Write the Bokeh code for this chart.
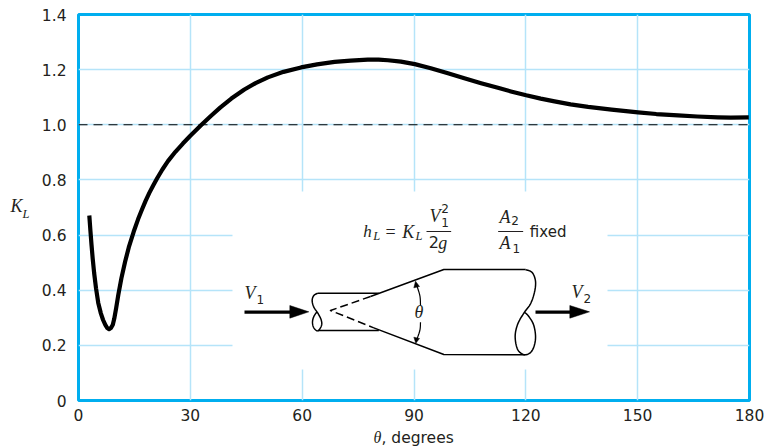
from bokeh.plotting import figure
from bokeh.models import Label, Range1d
from bokeh.embed import file_html
from bokeh.resources import INLINE

# Loss coefficient curve
theta = [2.9, 3.2, 3.5, 3.8, 4.2, 4.7, 5.3, 6.0, 6.6, 7.2, 7.7, 8.2, 8.7, 9.2, 9.6, 10.1, 10.7, 11.5, 12.5,
         13.5, 14.8, 16.0, 17.0, 18.0, 19.0, 20.0, 21.1, 22.5, 24.0, 26.0, 28.0, 30.0, 33.0, 35.5,
         38.0, 41.0, 44.5, 47.5, 50.8, 55.0, 59.7, 64.0, 68.7, 73.0, 77.6, 80.5, 83.0, 86.5, 90.2, 94.5,
         99.1, 103.5, 108.0, 112.5, 116.0, 120.1, 124.0, 127.7, 132.0, 136.7, 143.0, 150.1, 155.0, 160.8,
         166.0, 171.5, 175.0, 179.8]
K_L = [0.671, 0.615, 0.563, 0.516, 0.462, 0.407, 0.354, 0.316, 0.292, 0.274, 0.263, 0.259, 0.263, 0.275,
       0.297, 0.335, 0.385, 0.443, 0.503, 0.556, 0.612, 0.658, 0.692, 0.724, 0.753, 0.779, 0.806, 0.838,
       0.868, 0.902, 0.932, 0.960, 1.000, 1.032, 1.062, 1.095, 1.128, 1.151, 1.172, 1.192, 1.208,
       1.219, 1.228, 1.233, 1.236, 1.236, 1.234, 1.229, 1.220, 1.205, 1.187, 1.169, 1.151, 1.134, 1.121,
       1.107, 1.095, 1.085, 1.074, 1.065, 1.055, 1.045, 1.039, 1.034, 1.030, 1.027, 1.026, 1.027]
ref_x = [0, 180]
ref_y = [1.0, 1.0]
x_ticks = [0, 30, 60, 90, 120, 150, 180]
y_ticks = [0, 0.2, 0.4, 0.6, 0.8, 1.0, 1.2, 1.4]
y_labels = ["0", "0.2", "0.4", "0.6", "0.8", "1.0", "1.2", "1.4"]

BLUE = "#00aeef"
GRID = "#b5e4f9"
INK = "#231f20"
SANS = "DejaVu Sans"
SERIF = "Liberation Serif"

p = figure(width=764, height=446, output_backend="svg", toolbar_location=None,
           x_range=Range1d(0, 180), y_range=Range1d(0, 1.4),
           min_border_left=78, min_border_right=15, min_border_top=14, min_border_bottom=46,
           outline_line_color=BLUE, outline_line_width=3, background_fill_color="white")
p.xaxis.ticker = x_ticks
p.yaxis.ticker = y_ticks
p.yaxis.major_label_overrides = {t: s for t, s in zip(y_ticks, y_labels)}
for ax in (p.xaxis[0], p.yaxis[0]):
    ax.axis_line_color = None
    ax.major_tick_line_color = None
    ax.minor_tick_line_color = None
    ax.major_label_text_font = SANS
    ax.major_label_text_font_size = "15.5px"
    ax.major_label_text_color = INK
p.xaxis.major_label_standoff = 2
p.yaxis.major_label_standoff = 6
p.xgrid.ticker = x_ticks
p.ygrid.ticker = y_ticks
for g in (p.xgrid[0], p.ygrid[0]):
    g.grid_line_color = GRID
    g.grid_line_width = 1.5


def dx(px):
    return (px - 78) / 671 * 180


def dy(py):
    return (400 - py) / 386 * 1.4


# white panel behind the inset
p.quad(left=[dx(232)], right=[dx(607)], bottom=[dy(369)], top=[dy(191)],
       fill_color="white", line_color=None)

p.line(ref_x, ref_y, line_color="black", line_width=1.1, line_dash="9 6")
p.line(theta, K_L, line_color="black", line_width=4.2, line_join="round")


def smooth(pts, n=8):
    """Catmull-Rom rounding of the hand-drawn inset outline only."""
    out = []
    for i in range(len(pts) - 1):
        p0 = pts[max(i - 1, 0)]
        p1 = pts[i]
        p2 = pts[i + 1]
        p3 = pts[min(i + 2, len(pts) - 1)]
        for k in range(n):
            t = k / n
            out.append(tuple(
                0.5 * (2 * p1[c] + (p2[c] - p0[c]) * t + (2 * p0[c] - 5 * p1[c] + 4 * p2[c] - p3[c]) * t * t
                       + (3 * p1[c] - p0[c] - 3 * p2[c] + p3[c]) * t ** 3)
                for c in (0, 1)))
    out.append(pts[-1])
    return out


def z1(pts):
    xs = [dx(230 + a / 3) for a, b in pts]
    ys = [dy(210 + b / 3) for a, b in pts]
    return xs, ys


def stroke(pts, w=1.5, dash="solid"):
    xs, ys = z1(pts)
    p.line(xs, ys, line_color="black", line_width=w, line_dash=dash, line_join="round")


def head(pts):
    xs, ys = z1(pts)
    p.patch(xs, ys, fill_color="black", line_color="black", line_width=0.5)


# pipe
stroke([(445, 248), (262, 248)])
stroke(smooth([(262, 248), (250, 255), (245, 270), (250, 290), (262, 308), (272, 328), (273, 345), (262, 361),
               (250, 352), (246, 335), (250, 318), (260, 303)]))
stroke([(262, 360), (445, 360)])
stroke([(420, 258), (640, 177), (885, 177)])
stroke(smooth([(885, 177), (905, 186), (915, 212), (912, 245), (900, 280), (882, 305), (862, 340), (854, 378),
               (862, 418), (884, 433), (905, 420), (915, 385), (910, 345), (895, 318), (882, 305)]))
stroke([(884, 433), (640, 432), (430, 352)])
stroke([(420, 258), (300, 300), (430, 352)], 1.5, "8 4")
# velocity arrows
stroke([(42, 305), (190, 305)], 3.4)
head([(178, 285), (235, 304), (178, 323)])
stroke([(915, 305), (1030, 305)], 3.4)
head([(1018, 285), (1077, 304), (1018, 323)])
# angle marker
stroke(smooth([(570, 285), (568, 255), (557, 220)]), 1.2)
stroke(smooth([(570, 335), (568, 360), (557, 392)]), 1.2)
head([(550, 232), (555, 212), (567, 228)])
head([(550, 380), (556, 398), (567, 384)])


def lab(px, py, text, size, font=SANS, style="normal", panel=None):
    label = Label(x=px, y=py, x_units="canvas", y_units="canvas", text=text, text_font=font,
                  text_font_size=f"{size}px", text_font_style=style, text_color=INK,
                  text_baseline="middle", text_align="left")
    if panel:
        p.add_layout(label, panel)
    else:
        p.add_layout(label)


def z8(a, b):
    return 280 + a / 3, 170 + b / 3


def bar(a0, a1, b):
    x0, y0 = z8(a0, b)
    x1, _ = z8(a1, b)
    p.line([dx(x0), dx(x1)], [dy(y0), dy(y0)], line_color=INK, line_width=1)


# axis titles
lab(373, 437, "θ", 16, SERIF, "italic", "left")
lab(381, 437, ", degrees", 15.5, panel="below")
lab(10, 205, "K", 18, SERIF, "italic", "left")
lab(22, 213, "L", 12.5, SERIF, "italic", "left")

# formula
lab(*z8(248, 183), "h", 17, SERIF, "italic")
lab(*z8(278, 195), "L", 12.5, SERIF, "italic")
lab(*z8(315, 183), "=", 18, SERIF)
lab(*z8(365, 183), "K", 18, SERIF, "italic")
lab(*z8(405, 195), "L", 12.5, SERIF, "italic")
bar(438, 512, 183)
lab(*z8(447, 135), "V", 18, SERIF, "italic")
lab(*z8(482, 115), "2", 12)
lab(*z8(482, 157), "1", 12)
lab(*z8(445, 215), "2", 16)
lab(*z8(473, 218), "g", 18, SERIF, "italic")
lab(*z8(657, 140), "A", 18, SERIF, "italic")
lab(*z8(692, 150), "2", 12)
bar(653, 728, 183)
lab(*z8(657, 218), "A", 18, SERIF, "italic")
lab(*z8(696, 235), "1", 12)
lab(*z8(748, 183), "fixed", 15)

# inset symbols
lab(244, 292, "V", 18, SERIF, "italic")
lab(256, 299, "1", 12)
lab(571, 291, "V", 18, SERIF, "italic")
lab(583, 298, "2", 12)
lab(414, 311, "θ", 18, SERIF, "italic")

open("out.html", "w").write(file_html(p, INLINE))
